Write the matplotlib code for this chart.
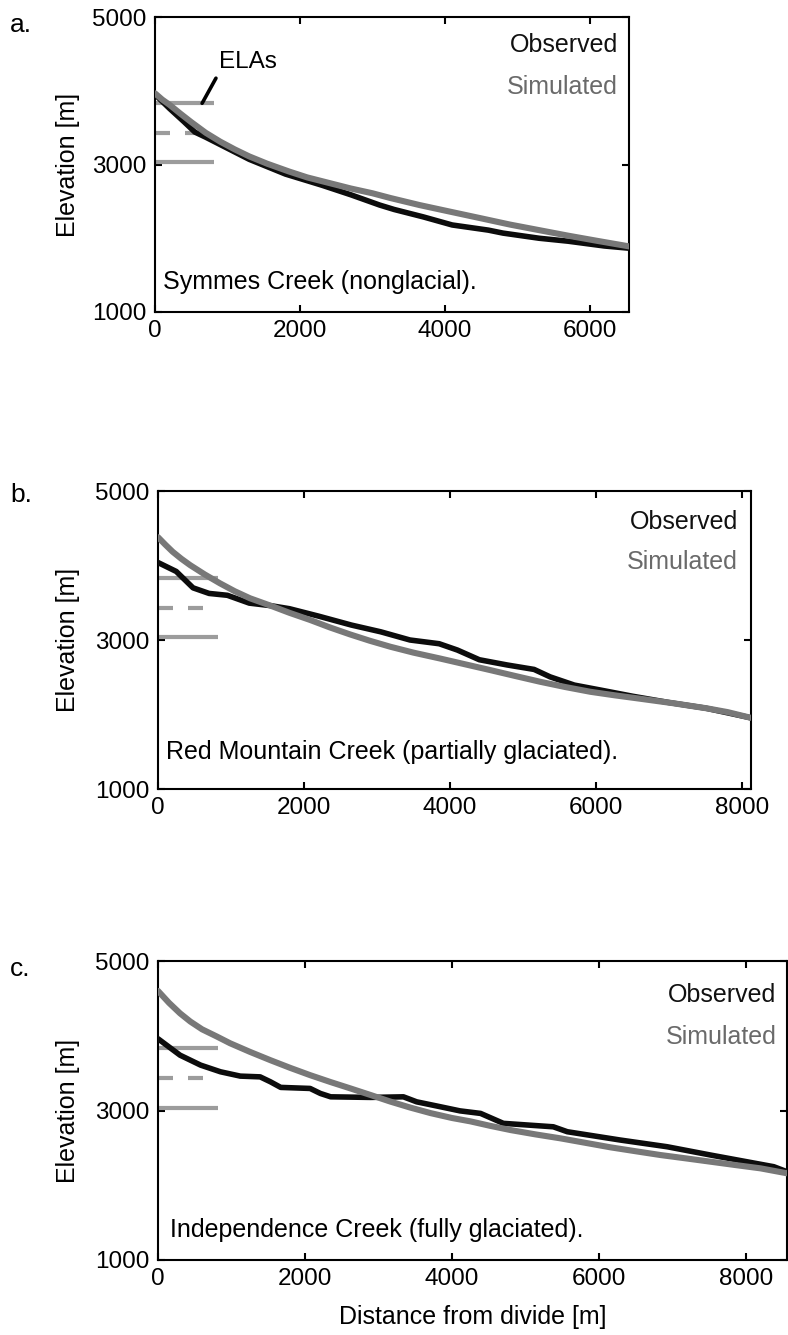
import matplotlib
matplotlib.use("Agg")
import matplotlib.pyplot as plt

plt.rcParams['font.family'] = ['Liberation Sans', 'DejaVu Sans']

# Equilibrium-line altitudes (m) and their horizontal extent (m from divide)
ela_levels = [3830, 3430, 3040]
ela_length = 820
ela_dashed_length = 650

# a. Symmes Creek (nonglacial)
obs_a_x = [0, 200, 400, 550, 700, 900, 1300, 1800, 2300, 2700, 3100, 3300, 3700,
           4100, 4600, 4800, 5300, 5700, 6200, 6540]
obs_a_y = [3950, 3760, 3580, 3440, 3370, 3270, 3070, 2870, 2720, 2590, 2450, 2390,
           2290, 2180, 2110, 2070, 2000, 1960, 1895, 1865]
sim_a_x = [0, 100, 200, 350, 500, 700, 900, 1100, 1300, 1550, 1850, 2100, 2400, 2700,
           3000, 3250, 3650, 4050, 4500, 4900, 5300, 5700, 6100, 6540]
sim_a_y = [3965, 3880, 3810, 3690, 3575, 3430, 3310, 3205, 3110, 3010, 2905, 2825,
           2750, 2675, 2610, 2545, 2450, 2365, 2270, 2185, 2110, 2035, 1965, 1890]

# b. Red Mountain Creek (partially glaciated)
obs_b_x = [0, 250, 480, 700, 950, 1250, 1550, 1800, 2200, 2650, 3050, 3450, 3850,
           4100, 4400, 4780, 5150, 5370, 5700, 6050, 6500, 7000, 7500, 8120]
obs_b_y = [4040, 3920, 3700, 3625, 3600, 3495, 3460, 3420, 3320, 3200, 3110, 3000,
           2950, 2865, 2735, 2665, 2605, 2505, 2395, 2330, 2245, 2160, 2085, 1955]
sim_b_x = [0, 100, 200, 320, 440, 640, 850, 1050, 1260, 1530, 1800, 2080, 2350, 2630,
           2900, 3180, 3500, 3860, 4200, 4550, 4900, 5230, 5570, 5920, 6250, 6600,
           7050, 7520, 7800, 8120]
sim_b_y = [4380, 4280, 4185, 4090, 4005, 3880, 3760, 3655, 3560, 3465, 3365, 3270,
           3170, 3075, 2990, 2910, 2830, 2752, 2675, 2596, 2515, 2440, 2370, 2305,
           2258, 2212, 2152, 2082, 2032, 1955]

# c. Independence Creek (fully glaciated)
obs_c_x = [0, 300, 580, 850, 1120, 1390, 1530, 1670, 2070, 2210, 2350, 2890, 3340,
           3520, 3800, 4110, 4390, 4700, 5380, 5570, 6290, 6930, 7520, 8380, 8560]
obs_c_y = [3960, 3740, 3607, 3518, 3460, 3450, 3384, 3309, 3295, 3228, 3183, 3175,
           3183, 3116, 3059, 2995, 2961, 2828, 2782, 2716, 2605, 2515, 2404, 2248, 2181]
sim_c_x = [0, 150, 300, 440, 600, 800, 980, 1250, 1530, 1800, 2070, 2350, 2620, 2900,
           3160, 3430, 3710, 4000, 4250, 4520, 4800, 5140, 5480, 5820, 6160, 6500,
           6840, 7180, 7520, 7860, 8200, 8560]
sim_c_y = [4600, 4440, 4300, 4190, 4086, 3990, 3900, 3785, 3673, 3570, 3473, 3380,
           3295, 3205, 3120, 3040, 2965, 2900, 2855, 2795, 2738, 2680, 2627, 2567,
           2507, 2455, 2404, 2360, 2315, 2270, 2226, 2160]

panel_letters = ['a.', 'b.', 'c.']
panel_titles = ['Symmes Creek (nonglacial).',
                'Red Mountain Creek (partially glaciated).',
                'Independence Creek (fully glaciated).']
x_limits = [6540, 8120, 8560]
x_ticks = [[0, 2000, 4000, 6000], [0, 2000, 4000, 6000, 8000], [0, 2000, 4000, 6000, 8000]]
y_ticks = [1000, 3000, 5000]

W, H = 788, 1335
fig = plt.figure(figsize=(W / 100, H / 100), dpi=100)

# axes boxes in pixels: left, top, right, bottom
boxes = [(155, 17, 629, 312), (158, 491, 751, 789), (158, 961, 787, 1260)]
# text positions (axes fraction)
title_pos = [(0.017, 0.10), (0.013, 0.125), (0.0195, 0.10)]
obs_pos = [(0.977, 0.905), (0.978, 0.896), (0.983, 0.885)]
sim_pos = [(0.977, 0.763), (0.978, 0.762), (0.983, 0.746)]
letter_y = [25, 495, 969]

obs_color = '#0c0c0c'
sim_color = '#787878'
ela_color = '#9c9c9c'
FS = 18

data = [(obs_a_x, obs_a_y, sim_a_x, sim_a_y),
        (obs_b_x, obs_b_y, sim_b_x, sim_b_y),
        (obs_c_x, obs_c_y, sim_c_x, sim_c_y)]

for i, (ox, oy, sx, sy) in enumerate(data):
    l, t, r, b = boxes[i]
    ax = fig.add_axes([l / W, 1 - b / H, (r - l) / W, (b - t) / H])

    # ELA markers
    ax.plot([0, ela_length], [ela_levels[0]] * 2, color=ela_color, lw=3.0,
            solid_capstyle='butt', zorder=2)
    mid, = ax.plot([0, ela_dashed_length], [ela_levels[1]] * 2, color=ela_color,
                   lw=3.0, dash_capstyle='butt', zorder=2)
    mid.set_dashes([3.6, 3.6])
    ax.plot([0, ela_length], [ela_levels[2]] * 2, color=ela_color, lw=3.0,
            solid_capstyle='butt', zorder=2)

    ax.plot(ox, oy, color=obs_color, lw=4.0, solid_joinstyle='round',
            solid_capstyle='round', zorder=3)
    ax.plot(sx, sy, color=sim_color, lw=4.4, solid_joinstyle='round',
            solid_capstyle='round', zorder=4)

    ax.set_xlim(0, x_limits[i])
    ax.set_ylim(1000, 5000)
    ax.set_xticks(x_ticks[i])
    ax.set_yticks(y_ticks)
    ax.tick_params(direction='in', length=5, width=1.5, top=True, right=True,
                   labelsize=17.5, pad=6)
    for sp in ax.spines.values():
        sp.set_linewidth(1.5)

    ax.set_ylabel('Elevation [m]', fontsize=FS)
    ax.yaxis.set_label_coords((80 - l) / (r - l), 0.5)

    ax.text(*title_pos[i], panel_titles[i], transform=ax.transAxes, fontsize=FS,
            ha='left', va='center')
    ax.text(*obs_pos[i], 'Observed', transform=ax.transAxes, fontsize=FS,
            ha='right', va='center', color='#111111')
    ax.text(*sim_pos[i], 'Simulated', transform=ax.transAxes, fontsize=FS,
            ha='right', va='center', color='#6a6a6a')

    fig.text(10 / W, 1 - letter_y[i] / H, panel_letters[i], fontsize=19,
             ha='left', va='center')

    if i == 0:
        ax.annotate('ELAs', xy=(650, ela_levels[0]), xytext=(1280, 4390),
                    fontsize=17.5, ha='center', va='center',
                    arrowprops=dict(arrowstyle='-', lw=2.6, color='black',
                                    shrinkA=2, shrinkB=0, relpos=(0.0, 0.0)))
    if i == 2:
        ax.set_xlabel('Distance from divide [m]', fontsize=FS)
        ax.xaxis.set_label_coords(0.5, (b - 1305) / (b - t))

fig.savefig('out.png', dpi=100)
